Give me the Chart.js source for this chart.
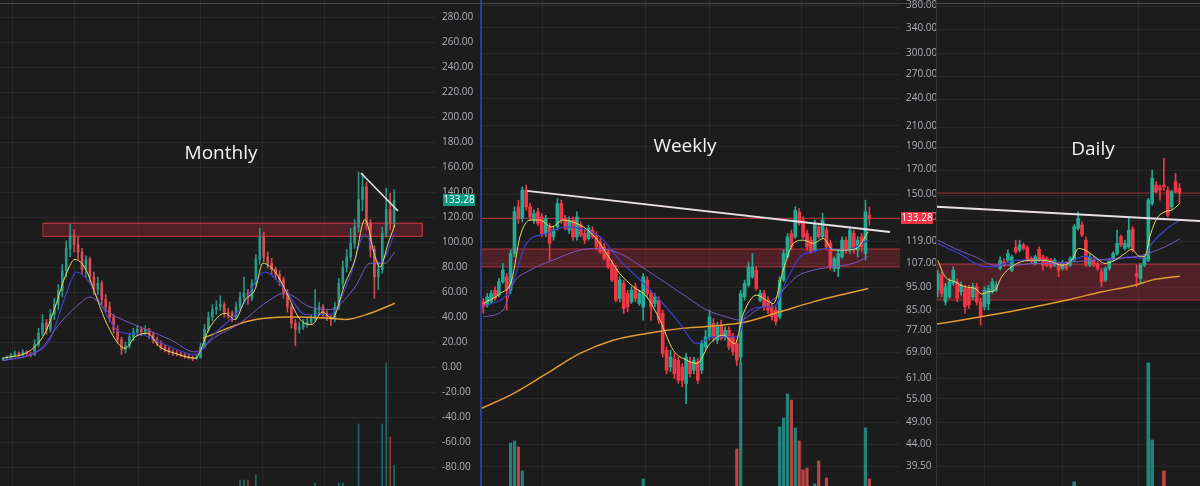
<!DOCTYPE html>
<html><head><meta charset="utf-8">
<script src="https://cdn.jsdelivr.net/npm/chart.js@4.4.1/dist/chart.umd.min.js"></script>
<style>
html,body{margin:0;padding:0;background:#1c1c1c;width:1200px;height:486px;overflow:hidden;}
.panel{position:absolute;top:0;height:486px;}
#p1{left:0;width:480px;}
#p2{left:481px;width:455px;}
#p3{left:937px;width:263px;}
.title{position:absolute;color:#f4f4f4;font-family:'Open Sans',sans-serif;font-size:19px;line-height:19px;transform:translateX(-50%);white-space:nowrap;}
.vline{position:absolute;top:0;height:486px;}
.topline{position:absolute;left:0;top:3px;width:1200px;height:1px;background:#4a4a4a;}
</style></head>
<body>
<div class="panel" id="p1"><canvas id="c1"></canvas></div>
<div class="panel" id="p2"><canvas id="c2"></canvas></div>
<div class="panel" id="p3"><canvas id="c3"></canvas></div>
<div class="vline" style="left:480px;width:2px;background:#2c3c92;"></div>
<div class="vline" style="left:936px;width:1px;background:#333;"></div>
<div class="topline"></div>
<div class="title" style="left:221px;top:143px;">Monthly</div>
<div class="title" style="left:685px;top:136px;">Weekly</div>
<div class="title" style="left:1093px;top:139px;">Daily</div>
<script>
// ---------------- DATA ----------------
// Monthly candles [open, high, low, close]
const monthlyOHLC = [
[6,8,5,7],[7,9,6,8],[8,11,7,9],[9,13,8,11],[11,12,8,10],[10,14,9,12],[12,13,9,11],[11,12,8,10],
[10,22,9,18],[18,31,16,27],[27,42,25,35],[35,38,26,30],[30,46,28,42],[42,55,38,50],[50,66,46,61],
[61,82,56,77],[77,101,72,95],[95,114,88,105],[105,110,92,98],[98,104,86,92],[92,95,74,78],
[78,89,72,86],[86,88,68,72],[72,76,58,62],[62,72,58,67],[67,69,50,54],[54,58,44,48],[48,52,36,40],
[40,42,27,30],[30,33,19,22],[22,24,10,14],[14,20,11,17],[17,27,15,24],[24,31,21,28],[28,33,25,30],
[30,32,25,28],[28,33,26,30],[30,31,23,26],[26,28,19,22],[22,24,17,19],[19,21,14,16],[16,18,12,14],
[14,16,10,12],[12,14,9,11],[11,13,9,10.5],[10.5,12,8,9.6],[9.6,11,7,8.8],[8.8,10,6.5,7.7],[7.7,9,5,6.9],
[6.9,10,6,7.7],[7.7,19,7,16],[16,34,15,30],[30,44,28,40],[40,50,37,46],[46,53,42,48],[48,57,45,50],
[50,52,40,44],[44,47,39,43],[43,45,36,40],[40,52,38,48],[48,60,46,56],[56,72,53,59],[59,62,50,55],
[55,70,53,67],[67,90,65,86],[86,111,82,104],[104,108,84,88],[88,92,79,83],[83,87,74,78],[78,80,70,74],
[74,77,65,70],[70,72,55,59],[59,62,44,48],[48,50,31,35],[35,38,17,30],[30,36,27,32],[32,38,30,35],
[35,39,32,36],[36,42,34,39],[39,62,37,46],[46,52,42,48],[48,50,40,43],[43,45,37,40],[40,42,33,38],
[38,52,36,48],[48,71,46,67],[67,85,63,80],[80,94,76,88],[88,111,85,99],[99,118,95,112],
[112,156,108,134],[134,155,125,144],[144,148,110,115],[115,118,88,94],[94,97,55,72],[72,84,62,78],
[78,112,75,107],[107,143,104,126],[126,139,110,115],[115,142,112,133.28]
];
// Moving averages [candle index, value]
const monthlyMA10 = [[0,7],[6.8,13],[10.6,27],[13.2,48],[15.7,72],[18.2,86],[20.8,79],[23.3,59],[25.8,38],[29.1,19],[30.9,15],[33.4,24],[36.5,27],[39.7,16],[43.5,11],[48.6,7],[52.4,32],[56.2,43],[58.7,38],[61.3,54],[63.8,62],[65.8,83],[68.9,76],[71.4,62],[75.2,38],[78.2,34],[80.8,44],[83.3,39],[86.6,67],[89.1,86],[91.6,118],[94.2,88],[95.4,80],[97.5,99],[99.2,114]];
const monthlyMA20 = [[0,5],[6.8,10],[11.9,22],[15.7,56],[18.7,76],[22,67],[24.6,51],[29.6,28],[34.7,26],[41,18],[48.6,10],[53.7,27],[60,46],[66.3,76],[71.4,62],[76.5,42],[82.8,42],[87.8,72],[91.6,106],[95.4,83],[99.2,107]];
const monthlyMA50 = [[0,5],[9.4,14],[14.4,35],[19.5,51],[22,56],[27.1,43],[34.7,32],[42.3,22],[48.6,12],[53.7,24],[60,35],[66.3,51],[71.4,59],[77.7,48],[82.8,46],[89.1,64],[92.9,83],[96.7,83],[99.2,92]];
const monthlyMA200 = [[50.6,23],[62.5,37],[72.7,40],[82.8,39],[86.6,38],[92.9,43],[99.2,51]];
const monthlyVolume = [[60,6],[61,6],[62,6],[64,11],[79,3],[85,3],[86,3],[90,62],[96,62],[97,123],[98,49],[99,21]];
const monthlyZone = [10.1,106.1,104.5,115];      // x from, x to, low, high
const monthlyTrend = [[90.6,155.2],[100,124.8]];
const monthlyTicks = [-80,-60,-40,-20,0,20,40,60,80,100,120,140,160,180,200,220,240,260,280];

const weeklyOHLC = [
[88.5,90.0,83.6,86.3],[87.0,92.2,86.3,90.7],[88.5,93.7,87.8,92.2],[93.7,95.3,89.2,90.0],[91.5,99.3,90.7,97.7],
[97.7,106.9,96.9,103.4],[100.1,101.7,85.0,93.7],[93.7,114.1,92.2,112.2],[112.2,141.1,110.4,137.7],[141.1,145.8,130.1,133.3],
[133.3,155.7,131.0,153.2],[153.2,157.0,138.8,141.1],[141.1,143.5,132.2,134.3],[132.2,138.8,130.1,136.6],[137.7,140.0,128.5,130.1],
[134.3,136.6,121.8,123.8],[123.8,135.4,121.8,133.3],[127.9,130.1,108.6,117.9],[121.8,127.9,119.8,125.9],[127.9,146.9,125.9,143.5],
[143.5,145.8,130.1,132.2],[133.3,135.4,125.9,127.0],[125.9,134.3,123.8,132.2],[132.2,134.3,119.8,121.8],[121.8,137.7,119.8,134.3],
[129.0,131.1,121.8,122.8],[123.8,125.9,117.9,119.8],[120.8,128.9,119.8,126.9],[125.9,127.9,120.8,121.8],[122.8,124.8,114.1,115.9],
[118.9,120.8,112.2,113.1],[115.9,117.9,108.6,109.5],[113.1,114.1,104.2,105.1],[106.9,108.6,97.7,98.5],[104.2,106.0,88.5,89.2],
[90.0,100.1,88.5,98.5],[96.9,98.5,83.6,85.6],[92.2,93.7,84.3,86.3],[88.5,95.3,87.8,93.7],[95.3,96.9,88.5,90.0],
[87.8,93.7,87.0,92.2],[86.3,101.7,80.9,100.1],[98.5,100.1,90.7,92.2],[92.2,93.7,80.9,86.3],[87.8,92.2,86.3,90.7],
[89.2,90.7,79.6,80.9],[83.6,85.0,67.5,68.7],[69.8,71.0,62.2,63.3],[64.3,69.8,62.8,67.5],[67.0,68.7,60.7,62.2],
[66.5,67.5,59.3,60.2],[64.3,65.4,58.3,60.2],[59.3,68.7,53.7,67.5],[66.0,67.5,61.2,62.2],[63.3,67.5,62.2,66.5],
[66.0,67.0,59.3,60.2],[63.3,73.3,62.2,72.1],[70.9,77.0,70.0,74.5],[74.5,85.0,73.3,82.2],[79.6,81.5,72.7,74.5],
[73.3,80.0,72.1,78.3],[79.0,80.9,73.3,73.9],[74.5,78.3,73.3,77.0],[77.0,78.3,70.0,70.9],[74.5,75.8,68.1,69.2],
[72.1,73.3,64.8,66.5],[67.5,93.7,65.4,92.2],[90.7,98.5,89.2,96.9],[96.1,107.7,95.3,105.1],[100.1,112.2,99.3,105.1],
[103.4,105.1,93.7,94.5],[89.2,93.7,88.5,92.2],[92.2,93.7,85.0,86.3],[89.2,90.7,83.6,85.0],[86.3,87.8,80.9,82.2],
[85.0,86.3,79.0,80.3],[82.2,100.1,81.5,98.5],[98.5,114.1,97.7,112.2],[110.4,123.8,109.5,121.8],[123.8,125.9,114.1,115.9],
[121.8,141.1,120.8,138.8],[137.7,140.0,128.9,130.1],[132.2,134.3,120.8,121.8],[123.8,125.9,114.1,115.9],[119.8,121.8,112.2,113.1],
[114.1,132.2,113.1,130.1],[127.9,129.0,120.8,121.8],[121.8,136.6,120.8,132.2],[125.9,127.9,114.1,115.9],[117.9,119.8,103.4,105.1],
[104.2,110.4,102.6,109.5],[104.2,114.1,100.1,112.2],[110.4,121.8,109.5,119.8],[119.8,121.8,112.2,114.1],[114.1,127.9,112.2,125.9],
[123.8,125.9,112.2,114.1],[114.1,121.8,110.4,119.8],[121.8,123.8,113.1,115.9],[112.2,145.8,108.6,137.7],[135.4,141.1,128.9,133.28]
];
const weeklyMA10 = [[0,87.8],[4.3,92.2],[7.3,98.5],[9.4,121.8],[12,132.2],[14.5,132.2],[17.5,127.9],[20.5,132.2],[24.8,129],[28.2,122.8],[31.6,112.2],[35,101.7],[38.5,95.3],[41.9,90.7],[45.3,80.9],[48.7,69.8],[52.1,66.5],[54.7,65.4],[58.1,72.1],[61.5,75.2],[64.5,72.1],[66.7,83.6],[70.1,91.5],[72.6,89.2],[74.4,87.8],[76.9,103.4],[79.5,117.9],[82.1,119.8],[84.6,117.9],[87.2,120.8],[89.7,114.1],[92.3,114.1],[95.7,115],[98.7,124.8]];
const weeklyMA20 = [[0,86.3],[6.8,93.7],[11.1,117.9],[16.2,123.8],[21.4,127.9],[24.8,126.9],[29.9,121.8],[35,108.6],[40.2,98.5],[45.3,89.2],[50.4,79.6],[54.7,72.1],[59,74.5],[65,74.5],[67.5,83.6],[71.8,86.3],[74.4,86.3],[77.8,98.5],[81.2,110.4],[84.6,113.1],[88,115],[93.2,114.1],[98.7,119.8]];
const weeklyMA50 = [[0,82.2],[5.1,85],[7.7,96.9],[12,103.4],[17.9,108.6],[24.8,114.1],[29,115],[35,112.2],[41.9,103.4],[47,96.9],[52.1,90.7],[57.3,85],[62.4,82.2],[65.8,80.9],[70.1,85],[75.2,90.7],[80.3,100.1],[84.6,103.4],[89.7,105.1],[94.9,106.9],[98.7,110.4]];
const weeklyMA200 = [[-0.6,52.4],[7.7,56.4],[16.2,62.2],[24.8,68.7],[33.3,73.3],[41.9,75.8],[50.4,77.6],[59,78.6],[67.5,80.3],[76.1,84.3],[84.6,88.5],[93.2,92.2],[98.7,94.5]];
const weeklyVolume = [[7,43],[8,45],[9,39],[10,15],[41,7],[65,37],[66,123],[76,59],[77,68],[78,92],[79,86],[80,58],[81,45],[82,16],[83,18],[85,2],[86,25],[88,8],[98,58],[99,7]];
const weeklyZone = [-0.6,106.9,105.1,114.7];
const weeklyTrend = [[11.2,152.6],[104.3,124.7]];
const weeklyTicks = [39.5,44,49,55,61,69,77,85,95,107,119,134,150,170,190,210,240,270,300,340,380];

const dailyOHLC = [
[90.4,97.9,88.0,96.7],[96.0,97.3,88.0,89.2],[86.3,92.9,85.2,91.6],[88.0,94.7,87.5,93.5],[92.9,99.3,92.2,97.9],
[93.5,94.7,86.3,87.5],[89.8,93.5,88.6,92.2],[91.0,92.2,82.4,84.6],[91.0,92.2,84.0,85.2],[88.0,92.9,87.0,91.6],
[91.6,92.9,85.2,86.3],[86.3,87.5,78.6,81.3],[84.6,91.6,83.5,90.4],[85.7,92.2,83.5,91.0],[89.8,94.7,89.2,93.5],
[90.4,93.5,89.8,92.2],[98.6,103.3,97.9,101.9],[101.3,102.6,99.3,99.9],[101.9,106.1,101.3,104.7],[97.9,104.0,97.3,103.3],
[107.2,110.4,104.7,105.4],[106.1,110.4,105.4,108.3],[108.3,109.0,106.1,106.8],[107.2,108.0,101.3,101.9],[102.6,103.3,100.6,101.3],
[100.6,104.0,99.9,103.3],[106.4,107.5,101.3,101.9],[103.3,104.0,97.9,99.9],[102.6,103.3,99.3,99.9],[101.9,102.6,98.6,99.3],
[99.9,102.6,99.3,101.9],[100.6,101.3,95.4,97.9],[98.6,101.9,97.9,100.6],[100.6,101.3,97.9,98.6],[99.9,103.3,99.3,102.6],
[101.9,117.5,101.3,116.5],[115.7,123.7,114.9,120.4],[117.3,118.8,111.9,112.7],[110.4,111.9,99.3,99.9],[99.9,104.7,99.3,103.3],
[101.9,103.3,99.3,99.9],[100.6,101.3,97.9,98.6],[97.3,98.6,91.6,93.5],[94.1,99.3,93.5,98.6],[98.6,102.6,97.9,101.9],
[101.9,105.4,101.3,104.7],[104.7,114.9,104.0,109.0],[111.9,112.7,107.5,108.3],[106.8,110.4,106.1,109.0],[107.5,120.4,106.8,114.9],
[115.5,116.5,105.4,106.1],[96.7,99.9,91.6,95.4],[94.7,100.6,92.9,99.9],[99.9,104.0,99.3,103.3],[101.9,130.5,101.3,129.6],
[127.9,146.1,127.0,141.3],[137.6,139.5,133.3,134.0],[136.7,137.6,129.6,134.9],[137.6,153.1,134.9,136.7],[134.9,136.7,121.2,122.0],
[126.2,134.9,124.8,134.0],[139.5,144.2,133.3,134.0],[135.8,138.5,127.9,133.28]
];
const dailyMA10 = [[0,101.9],[1.9,95.4],[4.4,93.5],[7,91.6],[9.6,91.0],[11.3,89.0],[13,89.8],[14.7,90.4],[16.4,95.4],[19,99.3],[21.5,101.3],[24.1,101.9],[26.7,101.9],[29.2,101.3],[31.8,99.9],[34.4,101.9],[36.1,106.8],[37.8,106.1],[40.3,103.3],[42.9,100.6],[45.5,101.9],[48,104.7],[49.7,106.4],[51.9,103.3],[53.2,103.6],[54.4,112.0],[56.2,120.4],[58.3,123.7],[60,124.5],[62.1,127.9]];
const dailyMA20 = [[0,109.0],[2.7,106.8],[6.2,104.0],[9.6,100.6],[12.1,99.3],[14.7,99.3],[17.3,100.6],[20.7,101.9],[25,101.9],[29.2,101.3],[32.6,100.6],[35.2,102.2],[37.8,103.6],[41.2,102.2],[44.6,101.9],[48.9,103.3],[52.3,102.6],[54.9,109.0],[58.3,114.9],[62.1,119.6]];
const dailyMA50 = [[0,110.4],[4.4,106.8],[9.6,103.3],[14.7,99.9],[19.8,99.9],[25,100.6],[30.1,100.6],[35.2,101.3],[40.3,101.9],[45.5,102.6],[50.6,103.3],[54,104.7],[58.3,107.5],[62.1,111.0]];
const dailyMA200 = [[-0.4,78.9],[10.4,81.1],[20.7,83.5],[33.5,87.0],[42.1,89.8],[50.6,92.2],[54.9,94.1],[62.1,95.6]];
const dailyVolume = [[35,4],[54,123],[55,46],[58,15]];
const dailyZone = [-0.5,67.3,86.9,100.3];
const dailyTrend = [[-0.2,126.2],[67.3,119.2]];
const dailyGrid = [44.7,48.8,53.3,58.7,63.6,70.3,77.0,83.5,91.5,100.7,109.6,119.6,132.2,146.1,160.2,173.5,194.1,212.8,233.3,256.9,281.6];

const lastPrice = 133.28;

// ---------------- STYLE / HELPERS ----------------
Chart.defaults.font.family = "'Open Sans', sans-serif";
const GRID = 'rgba(255,255,255,0.055)';
const C_YEL = '#e6dc62', C_BLU = '#3c3fd2', C_PUR = '#7a56c4', C_ORG = '#e49a34';
const ZONE_FILL = 'rgba(150,38,52,0.42)', ZONE_LINE = '#b8323f';

function axisX(min, max, gridVals) {
  return {type:'linear', min, max, display:true, offset:false,
    grid:{color:GRID, drawTicks:false, offset:false}, border:{display:false}, ticks:{display:false},
    afterBuildTicks:s=>{s.ticks = gridVals.map(v=>({value:v}));},
    afterFit:s=>{s.height=0; s.paddingLeft=0; s.paddingRight=0; s.paddingTop=0; s.paddingBottom=0;}};
}
function axisY(type, min, max, tickVals, width, show) {
  return {type, min, max, position:'right', display:true,
    grid:{color:GRID, drawTicks:false}, border:{display:false},
    ticks:{display:show, color:'#aeb1b8', font:{size:10}, padding:6, autoSkip:false,
      callback:v=>Number(v).toFixed(2)},
    afterBuildTicks:s=>{s.ticks = tickVals.map(v=>({value:v}));},
    afterFit:s=>{s.width=width; s.paddingTop=0; s.paddingBottom=0;}};
}
const volAxis = {type:'linear', min:0, max:486, display:false};

function candleSets(ohlc, up, down, bodyW) {
  const col = ohlc.map(c => c[3] >= c[0] ? up : down);
  return [
    {type:'bar', data: ohlc.map((c,i)=>({x:i, y:[c[2], c[1]]})), backgroundColor:col,
     barThickness:1, grouped:false, order:6},
    {type:'bar', data: ohlc.map((c,i)=>({x:i, y:[c[0], c[3]]})), backgroundColor:col,
     barThickness:bodyW, grouped:false, minBarLength:1, order:5}
  ];
}
function volSet(vol, ohlc, up, down, w) {
  return {type:'bar', yAxisID:'vol', data: vol.map(p=>({x:p[0], y:p[1]})),
    backgroundColor: vol.map(p => ohlc[p[0]][3] >= ohlc[p[0]][0] ? up : down),
    barThickness:w, grouped:false, order:9};
}
function lineSet(pts, color, w, order, smooth) {
  return {type:'line', data: pts.map(p=>({x:p[0], y:p[1]})), borderColor:color, borderWidth:w,
    pointRadius:0, fill:false, order, cubicInterpolationMode: smooth ? 'monotone' : 'default', tension:0};
}
function zoneSets(z, box) {
  const sets = [
    {type:'line', data:[{x:z[0],y:z[3]},{x:z[1],y:z[3]}], borderColor:ZONE_LINE, borderWidth:1,
     pointRadius:0, fill:'+1', backgroundColor:ZONE_FILL, order:10},
    {type:'line', data:[{x:z[0],y:z[2]},{x:z[1],y:z[2]}], borderColor:ZONE_LINE, borderWidth:1,
     pointRadius:0, fill:false, order:10}
  ];
  if (box) sets.push({type:'line', data:[{x:z[0],y:z[2]},{x:z[0],y:z[3]},{x:z[1],y:z[3]},{x:z[1],y:z[2]},{x:z[0],y:z[2]}],
     borderColor:ZONE_LINE, borderWidth:1, pointRadius:0, fill:false, order:10});
  return sets;
}
function priceLine(x0, x1, v, color) {
  return {type:'line', data:[{x:x0,y:v},{x:x1,y:v}], borderColor:color, borderWidth:1, pointRadius:0, fill:false, order:7};
}
const priceTag = {id:'priceTag', afterDraw(chart, args, o) {
  if (!o || !o.show) return;
  const s = chart.scales.y, ctx = chart.ctx;
  const y = Math.round(s.getPixelForValue(o.value));
  const x = s.left + o.dx;
  ctx.save();
  ctx.fillStyle = o.bg; ctx.fillRect(x, y-6, o.w, 12);
  ctx.fillStyle = '#ffffff'; ctx.font = "10px 'Open Sans', sans-serif";
  ctx.textBaseline = 'middle'; ctx.textAlign = 'center';
  ctx.fillText(o.value.toFixed(2), x + o.w/2, y + 0.5);
  ctx.restore();
}};

function makeChart(id, datasets, scales, tag) {
  return new Chart(document.getElementById(id), {
    type:'bar', data:{datasets},
    options:{responsive:true, maintainAspectRatio:false, animation:false, events:[],
      layout:{padding:0}, scales,
      plugins:{legend:{display:false}, tooltip:{enabled:false}, priceTag: tag || {show:false}}},
    plugins:[priceTag]
  });
}

// ---------------- MONTHLY ----------------
makeChart('c1', [
  ...zoneSets(monthlyZone, true),
  volSet(monthlyVolume, monthlyOHLC, 'rgba(38,166,154,0.55)', 'rgba(239,83,80,0.55)', 1),
  ...candleSets(monthlyOHLC, 'rgba(40,160,140,0.9)', 'rgba(225,80,85,0.9)', 2),
  lineSet(monthlyMA200, C_ORG, 1.5, 4, true),
  lineSet(monthlyMA50, C_PUR, 1, 3, true),
  lineSet(monthlyMA20, C_BLU, 1.2, 3, true),
  lineSet(monthlyMA10, C_YEL, 1, 2, true),
  lineSet(monthlyTrend, '#e8dfe6', 1.6, 1, false)
], {
  x: axisX(-0.76, 109.6, [2.3,18.2,34.2,49.9,65.8,81.5,97.5]),
  y: axisY('linear', -95.2, 293.6, monthlyTicks, 44, true),
  vol: volAxis
}, {show:true, value:lastPrice, bg:'#0c9a83', dx:7, w:32});

// ---------------- WEEKLY ----------------
makeChart('c2', [
  ...zoneSets(weeklyZone, false),
  volSet(weeklyVolume, weeklyOHLC, 'rgba(38,166,154,0.75)', 'rgba(239,83,80,0.75)', 2.5),
  priceLine(-0.6, 106.9, lastPrice, 'rgba(242,54,69,0.7)'),
  ...candleSets(weeklyOHLC, '#22ab94', '#f23645', 3),
  lineSet(weeklyMA200, C_ORG, 1.5, 4, true),
  lineSet(weeklyMA50, C_PUR, 1, 3, true),
  lineSet(weeklyMA20, C_BLU, 1.2, 3, true),
  lineSet(weeklyMA10, C_YEL, 1, 2, true),
  lineSet(weeklyTrend, '#e8dfe6', 1.8, 1, false)
], {
  x: axisX(-0.59, 106.85, [15.1,41.7,57.9,81.5,97.4]),
  y: axisY('logarithmic', 35.84, 389.45, weeklyTicks, 36, true),
  vol: volAxis
}, {show:true, value:lastPrice, bg:'#f23645', dx:1, w:32});

// ---------------- DAILY ----------------
makeChart('c3', [
  ...zoneSets(dailyZone, false),
  volSet(dailyVolume, dailyOHLC, 'rgba(38,166,154,0.75)', 'rgba(239,83,80,0.75)', 3),
  priceLine(-0.5, 67.3, lastPrice, 'rgba(242,54,69,0.6)'),
  ...candleSets(dailyOHLC, '#22ab94', '#f23645', 3),
  lineSet(dailyMA200, C_ORG, 1.5, 4, true),
  lineSet(dailyMA50, C_PUR, 1, 3, true),
  lineSet(dailyMA20, C_BLU, 1.2, 3, true),
  lineSet(dailyMA10, C_YEL, 1, 2, true),
  lineSet(dailyTrend, '#e8dfe6', 1.8, 1, false)
], {
  x: axisX(-0.18, 67.26, [12.1,31.9,51.4]),
  y: axisY('logarithmic', 41.3, 288.5, dailyGrid, 0, false),
  vol: volAxis
});
</script>
</body></html>
